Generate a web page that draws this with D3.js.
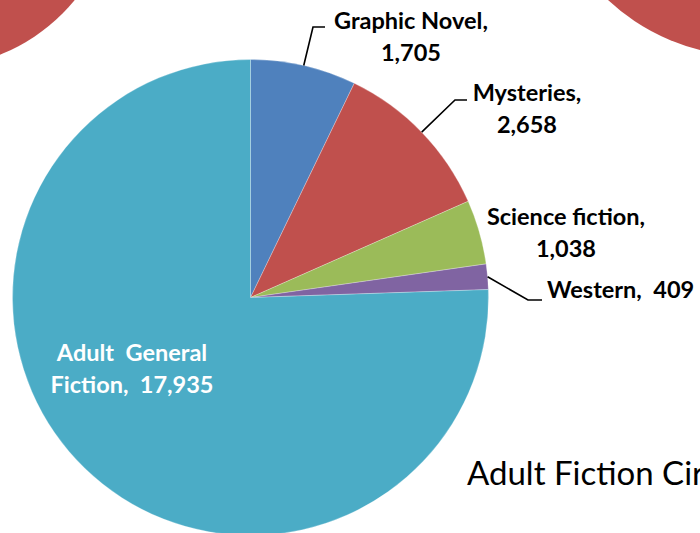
<!DOCTYPE html>
<html>
<meta charset="utf-8">
<script src="https://d3js.org/d3.v7.min.js"></script>
<head>
<style>
html, body { margin: 0; padding: 0; background: #fff; overflow: hidden; }
text { font-family: Lato, "Open Sans", sans-serif; }
</style>
</head>
<body>
<div id="chart"></div>
<script>

// data
var categories = ["Graphic Novel", "Mysteries", "Science fiction", "Western", "Adult  General Fiction"]
var values = [1705, 2658, 1038, 409, 17935]

var width = 700
    height = 533

var colors = ["#4f81bd", "#c0504d", "#9bbb59", "#8064a2", "#4bacc6"]

// label layout (text lines, anchor, leader elbow) per slice
var labelLines = [
  ["Graphic Novel,", "1,705"],
  ["Mysteries,", "2,658"],
  ["Science fiction,", "1,038"],
  ["Western,  409"],
  ["Adult  General", "Fiction,  17,935"]
]
var labelAt = [[411, 29], [527, 101], [566, 225], [547, 298], [132, 361]]
var labelAnchor = ["middle", "middle", "middle", "start", "middle"]
var elbow = [[313, 27], [455, 100], null, [528, 300], null]

var cx = 250.5, cy = 297.5, radius = 238

var svg = d3.select("#chart")
  .append("svg")
    .attr("width", width)
    .attr("height", height)

// bits of the neighbouring pies peeking in at the corners
svg.append("circle")
  .attr("cx", -69).attr("cy", -118).attr("r", 186)
  .attr("fill", "#c0504d")
svg.append("circle")
  .attr("cx", 750).attr("cy", -152).attr("r", 208)
  .attr("fill", "#c0504d")

var g = svg.append("g")
  .attr("transform", "translate(" + cx + "," + cy + ")")

var pie = d3.pie()
  .sort(null)
  .value(function(d) { return d })
var data_ready = pie(values)

var arc = d3.arc()
  .innerRadius(0)
  .outerRadius(radius)

g.selectAll('allSlices')
  .data(data_ready)
  .enter()
  .append('path')
  .attr('d', arc)
  .attr('fill', function(d, i) { return colors[i] })
  .attr("stroke", "rgba(255,255,255,0.35)")
  .style("stroke-width", "0.75px")

// leader lines
data_ready.forEach(function(d, i) {
  if (!elbow[i]) return
  var mid = (d.startAngle + d.endAngle) / 2
  var start = [cx + radius * Math.sin(mid), cy - radius * Math.cos(mid)]
  var e = elbow[i]
  var end = [e[0] + (labelAnchor[i] == "start" ? 14 : 12), e[1]]
  svg.append("polyline")
    .attr("points", [start, e, end].join(" "))
    .attr("fill", "none")
    .attr("stroke", "black")
    .attr("stroke-width", 1.6)
})

// labels
data_ready.forEach(function(d, i) {
  var t = svg.append("text")
    .attr("x", labelAt[i][0])
    .attr("y", labelAt[i][1])
    .attr("text-anchor", labelAnchor[i])
    .attr("font-weight", "bold")
    .attr("font-size", "23.5px")
    .attr("fill", i == 4 ? "white" : "black")
    .style("white-space", "pre")
  labelLines[i].forEach(function(line, j) {
    t.append("tspan")
      .attr("x", labelAt[i][0])
      .attr("dy", j == 0 ? 0 : 31.5)
      .text(line)
  })
})

svg.append("text")
  .attr("x", 467)
  .attr("y", 485)
  .attr("font-size", "33px")
  .attr("fill", "black")
  .text("Adult Fiction Circulation")

</script>
</body>
</html>
